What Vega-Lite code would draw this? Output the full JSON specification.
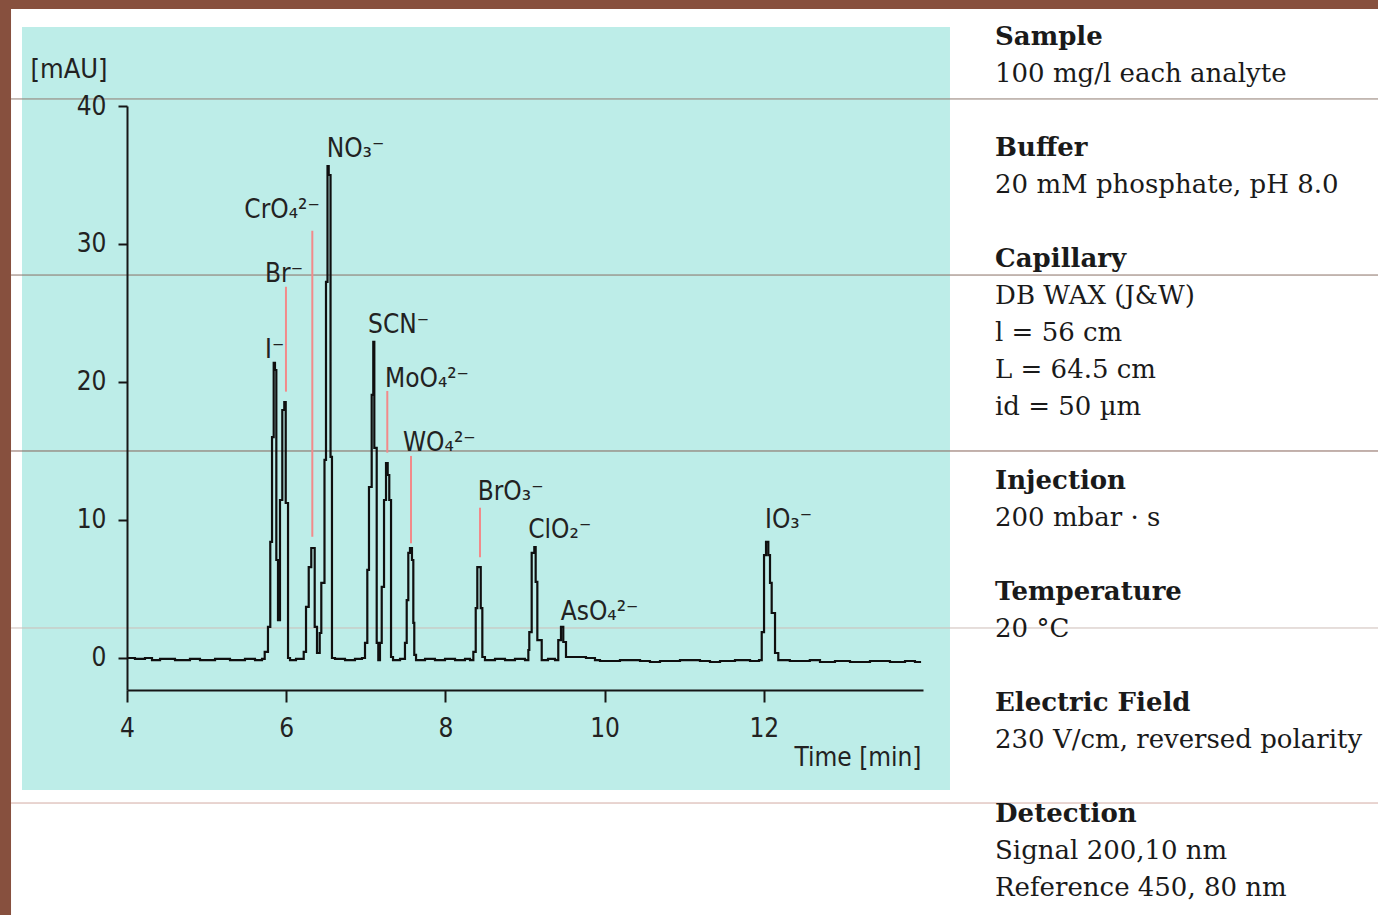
{
  "$schema": "https://vega.github.io/schema/vega-lite/v6.json",
  "width": 796,
  "height": 584,
  "autosize": "none",
  "padding": {"left": 127, "top": 106, "right": 455, "bottom": 225},
  "background": "#87503e",
  "config": {
    "view": {"stroke": null},
    "axis": {"grid": false, "domainColor": "#161616", "domainWidth": 2, "tickColor": "#161616", "tickWidth": 2, "labelFont": "Liberation Sans Narrow, DejaVu Sans Condensed, sans-serif", "labelFontSize": 26, "labelColor": "#222222", "labelFlush": false, "titleFont": "DejaVu Sans Condensed", "titleFontSize": 26, "titleFontWeight": "normal", "titleColor": "#222222"}
  },
  "datasets": {
    "trace": [
      {"t": 4.000, "mAU": 0.00}, {"t": 4.100, "mAU": -0.07}, {"t": 4.226, "mAU": 0.00}, {"t": 4.314, "mAU": -0.15},
      {"t": 4.415, "mAU": -0.07}, {"t": 4.603, "mAU": -0.15}, {"t": 4.791, "mAU": -0.07}, {"t": 4.917, "mAU": -0.15},
      {"t": 5.106, "mAU": -0.07}, {"t": 5.294, "mAU": -0.15}, {"t": 5.482, "mAU": -0.07}, {"t": 5.608, "mAU": -0.15},
      {"t": 5.696, "mAU": -0.07},
      {"t": 5.730, "mAU": 0.44}, {"t": 5.771, "mAU": 2.25}, {"t": 5.800, "mAU": 8.41}, {"t": 5.822, "mAU": 16.01},
      {"t": 5.843, "mAU": 21.38}, {"t": 5.859, "mAU": 20.87}, {"t": 5.876, "mAU": 7.10}, {"t": 5.897, "mAU": 2.75},
      {"t": 5.922, "mAU": 11.45}, {"t": 5.951, "mAU": 17.97}, {"t": 5.976, "mAU": 18.55}, {"t": 5.994, "mAU": 11.23},
      {"t": 6.023, "mAU": 0.00}, {"t": 6.048, "mAU": -0.15}, {"t": 6.123, "mAU": -0.07},
      {"t": 6.220, "mAU": 0.44}, {"t": 6.249, "mAU": 3.70}, {"t": 6.283, "mAU": 6.59}, {"t": 6.315, "mAU": 7.97},
      {"t": 6.358, "mAU": 2.25}, {"t": 6.387, "mAU": 0.36},
      {"t": 6.421, "mAU": 1.81}, {"t": 6.441, "mAU": 5.44}, {"t": 6.481, "mAU": 14.35}, {"t": 6.500, "mAU": 27.25},
      {"t": 6.519, "mAU": 35.65}, {"t": 6.534, "mAU": 35.00}, {"t": 6.557, "mAU": 14.57}, {"t": 6.575, "mAU": 0.00},
      {"t": 6.613, "mAU": -0.07}, {"t": 6.739, "mAU": -0.15}, {"t": 6.864, "mAU": -0.07}, {"t": 6.952, "mAU": 0.00},
      {"t": 6.990, "mAU": 1.09}, {"t": 7.019, "mAU": 6.38}, {"t": 7.040, "mAU": 12.39}, {"t": 7.074, "mAU": 19.06},
      {"t": 7.094, "mAU": 22.90}, {"t": 7.107, "mAU": 15.22}, {"t": 7.137, "mAU": 1.09}, {"t": 7.157, "mAU": -0.15},
      {"t": 7.178, "mAU": 1.09}, {"t": 7.200, "mAU": 5.15}, {"t": 7.229, "mAU": 11.45}, {"t": 7.254, "mAU": 14.13},
      {"t": 7.275, "mAU": 13.26}, {"t": 7.295, "mAU": 11.45}, {"t": 7.317, "mAU": 0.07}, {"t": 7.342, "mAU": -0.15},
      {"t": 7.430, "mAU": -0.07},
      {"t": 7.492, "mAU": 1.09}, {"t": 7.514, "mAU": 4.20}, {"t": 7.534, "mAU": 7.61}, {"t": 7.555, "mAU": 7.97},
      {"t": 7.580, "mAU": 7.10}, {"t": 7.597, "mAU": 2.54}, {"t": 7.609, "mAU": 0.22},
      {"t": 7.631, "mAU": -0.15}, {"t": 7.744, "mAU": -0.07}, {"t": 7.869, "mAU": -0.15}, {"t": 7.995, "mAU": -0.07},
      {"t": 8.121, "mAU": -0.15}, {"t": 8.246, "mAU": -0.07}, {"t": 8.309, "mAU": -0.15},
      {"t": 8.351, "mAU": 0.44}, {"t": 8.381, "mAU": 3.62}, {"t": 8.401, "mAU": 6.59}, {"t": 8.444, "mAU": 3.62},
      {"t": 8.464, "mAU": 0.07},
      {"t": 8.497, "mAU": -0.15}, {"t": 8.623, "mAU": -0.07}, {"t": 8.749, "mAU": -0.15}, {"t": 8.874, "mAU": -0.07},
      {"t": 9.000, "mAU": -0.15},
      {"t": 9.042, "mAU": 0.58}, {"t": 9.054, "mAU": 1.88}, {"t": 9.084, "mAU": 7.61}, {"t": 9.117, "mAU": 8.04},
      {"t": 9.134, "mAU": 5.51}, {"t": 9.155, "mAU": 1.30}, {"t": 9.210, "mAU": -0.15},
      {"t": 9.289, "mAU": -0.07}, {"t": 9.377, "mAU": -0.15},
      {"t": 9.418, "mAU": 1.30}, {"t": 9.452, "mAU": 2.25}, {"t": 9.481, "mAU": 1.16}, {"t": 9.515, "mAU": 0.07},
      {"t": 9.628, "mAU": 0.07}, {"t": 9.766, "mAU": 0.00}, {"t": 9.879, "mAU": -0.15}, {"t": 9.942, "mAU": -0.22},
      {"t": 10.193, "mAU": -0.15}, {"t": 10.445, "mAU": -0.22}, {"t": 10.570, "mAU": -0.29}, {"t": 10.696, "mAU": -0.22},
      {"t": 10.947, "mAU": -0.15}, {"t": 11.198, "mAU": -0.22}, {"t": 11.324, "mAU": -0.29}, {"t": 11.450, "mAU": -0.22},
      {"t": 11.638, "mAU": -0.15}, {"t": 11.827, "mAU": -0.22}, {"t": 11.940, "mAU": -0.15},
      {"t": 11.974, "mAU": 1.88}, {"t": 12.003, "mAU": 7.46}, {"t": 12.028, "mAU": 8.41}, {"t": 12.057, "mAU": 7.46},
      {"t": 12.078, "mAU": 5.44}, {"t": 12.099, "mAU": 3.26}, {"t": 12.141, "mAU": 0.36}, {"t": 12.182, "mAU": -0.15},
      {"t": 12.327, "mAU": -0.22}, {"t": 12.578, "mAU": -0.15}, {"t": 12.706, "mAU": -0.29}, {"t": 12.894, "mAU": -0.22},
      {"t": 13.083, "mAU": -0.29}, {"t": 13.334, "mAU": -0.22}, {"t": 13.585, "mAU": -0.29}, {"t": 13.774, "mAU": -0.22},
      {"t": 13.899, "mAU": -0.29}, {"t": 13.962, "mAU": -0.22}
    ],
    "labels": [
      {"ion": "NO₃⁻", "t": 6.509, "mAU": 36.33},
      {"ion": "CrO₄²⁻", "t": 5.474, "mAU": 31.86},
      {"ion": "Br⁻", "t": 5.734, "mAU": 27.27},
      {"ion": "I⁻", "t": 5.734, "mAU": 21.72},
      {"ion": "SCN⁻", "t": 7.028, "mAU": 23.55},
      {"ion": "MoO₄²⁻", "t": 7.241, "mAU": 19.64},
      {"ion": "WO₄²⁻", "t": 7.467, "mAU": 15.00},
      {"ion": "BrO₃⁻", "t": 8.406, "mAU": 11.45},
      {"ion": "ClO₂⁻", "t": 9.041, "mAU": 8.67},
      {"ion": "AsO₄²⁻", "t": 9.449, "mAU": 2.75},
      {"ion": "IO₃⁻", "t": 12.015, "mAU": 9.40}
    ],
    "markers": [
      {"ion": "Br⁻", "t": 5.997, "top": 26.9, "bottom": 19.3},
      {"ion": "CrO₄²⁻", "t": 6.328, "top": 30.96, "bottom": 8.79},
      {"ion": "MoO₄²⁻", "t": 7.270, "top": 19.35, "bottom": 14.88},
      {"ion": "WO₄²⁻", "t": 7.568, "top": 14.64, "bottom": 8.31},
      {"ion": "BrO₃⁻", "t": 8.435, "top": 10.89, "bottom": 7.30}
    ],
    "info": [
      {"line": 0, "role": "heading", "text": "Sample"},
      {"line": 1, "role": "detail", "text": "100 mg/l each analyte"},
      {"line": 3, "role": "heading", "text": "Buffer"},
      {"line": 4, "role": "detail", "text": "20 mM phosphate, pH 8.0"},
      {"line": 6, "role": "heading", "text": "Capillary"},
      {"line": 7, "role": "detail", "text": "DB WAX (J&W)"},
      {"line": 8, "role": "detail", "text": "l = 56 cm"},
      {"line": 9, "role": "detail", "text": "L = 64.5 cm"},
      {"line": 10, "role": "detail", "text": "id = 50 µm"},
      {"line": 12, "role": "heading", "text": "Injection"},
      {"line": 13, "role": "detail", "text": "200 mbar · s"},
      {"line": 15, "role": "heading", "text": "Temperature"},
      {"line": 16, "role": "detail", "text": "20 °C"},
      {"line": 18, "role": "heading", "text": "Electric Field"},
      {"line": 19, "role": "detail", "text": "230 V/cm, reversed polarity"},
      {"line": 21, "role": "heading", "text": "Detection"},
      {"line": 22, "role": "detail", "text": "Signal 200,10 nm"},
      {"line": 23, "role": "detail", "text": "Reference 450, 80 nm"}
    ]
  },
  "layer": [
    {
      "layer": [
        {
          "data": {"values": [{}]},
          "mark": {"type": "rect", "color": "#ffffff"},
          "encoding": {
            "x": {"datum": 2.543, "type": "quantitative", "scale": {"domain": [4, 14], "nice": false, "zero": false}},
            "x2": {"datum": 20},
            "y": {"datum": 47.03, "type": "quantitative", "scale": {"domain": [-2.32, 40], "nice": false, "zero": false}},
            "y2": {"datum": -30}
          }
        },
        {
          "data": {"values": [{}]},
          "mark": {"type": "rect", "color": "#bdede8"},
          "encoding": {
            "x": {"datum": 2.681, "type": "quantitative", "scale": {"domain": [4, 14], "nice": false, "zero": false}},
            "x2": {"datum": 14.339},
            "y": {"datum": 45.72, "type": "quantitative", "scale": {"domain": [-2.32, 40], "nice": false, "zero": false}},
            "y2": {"datum": -9.565}
          }
        },
        {
          "data": {"values": [{}]},
          "mark": {"type": "rule", "color": "#8f7b70", "strokeWidth": 1},
          "encoding": {"x": {"datum": 2.543, "type": "quantitative", "scale": {"domain": [4, 14], "nice": false, "zero": false}}, "x2": {"datum": 20}, "y": {"datum": 40.51, "type": "quantitative", "scale": {"domain": [-2.32, 40], "nice": false, "zero": false}}}
        },
        {
          "data": {"values": [{}]},
          "mark": {"type": "rule", "color": "#8a7166", "strokeWidth": 1},
          "encoding": {"x": {"datum": 2.543, "type": "quantitative", "scale": {"domain": [4, 14], "nice": false, "zero": false}}, "x2": {"datum": 20}, "y": {"datum": 27.75, "type": "quantitative", "scale": {"domain": [-2.32, 40], "nice": false, "zero": false}}}
        },
        {
          "data": {"values": [{}]},
          "mark": {"type": "rule", "color": "#86645a", "strokeWidth": 1},
          "encoding": {"x": {"datum": 2.543, "type": "quantitative", "scale": {"domain": [4, 14], "nice": false, "zero": false}}, "x2": {"datum": 20}, "y": {"datum": 15.0, "type": "quantitative", "scale": {"domain": [-2.32, 40], "nice": false, "zero": false}}}
        },
        {
          "data": {"values": [{}]},
          "mark": {"type": "rule", "color": "#cdbdb8", "strokeWidth": 1},
          "encoding": {"x": {"datum": 2.543, "type": "quantitative", "scale": {"domain": [4, 14], "nice": false, "zero": false}}, "x2": {"datum": 20}, "y": {"datum": 2.174, "type": "quantitative", "scale": {"domain": [-2.32, 40], "nice": false, "zero": false}}}
        },
        {
          "data": {"values": [{}]},
          "mark": {"type": "rule", "color": "#d2aaa2", "strokeWidth": 1},
          "encoding": {"x": {"datum": 2.543, "type": "quantitative", "scale": {"domain": [4, 14], "nice": false, "zero": false}}, "x2": {"datum": 20}, "y": {"datum": -10.51, "type": "quantitative", "scale": {"domain": [-2.32, 40], "nice": false, "zero": false}}}
        },
        {
          "data": {"name": "markers"},
          "mark": {"type": "rule", "color": "#f28a8a", "strokeWidth": 2},
          "encoding": {
            "x": {"field": "t", "type": "quantitative", "scale": {"domain": [4, 14], "nice": false, "zero": false}},
            "y": {"field": "top", "type": "quantitative", "scale": {"domain": [-2.32, 40], "nice": false, "zero": false}},
            "y2": {"field": "bottom"}
          }
        },
        {
          "data": {"name": "trace"},
          "mark": {"type": "line", "color": "#0f0f0f", "strokeWidth": 2.2, "interpolate": "step-after"},
          "encoding": {
            "x": {"field": "t", "type": "quantitative", "scale": {"domain": [4, 14], "nice": false, "zero": false},
                  "axis": {"zindex": 2, "values": [4, 6, 8, 10, 12], "format": "d", "tickSize": 12, "labelPadding": 13, "title": "Time [min]", "titleAnchor": "end", "titleAlign": "right", "titleBaseline": "alphabetic", "titleX": 794, "titleY": 75}},
            "y": {"field": "mAU", "type": "quantitative", "scale": {"domain": [-2.32, 40], "nice": false, "zero": false},
                  "axis": {"zindex": 2, "values": [0, 10, 20, 30, 40], "format": "d", "tickSize": 9, "labelPadding": 12, "title": "[mAU]", "titleAngle": 0, "titleAlign": "left", "titleBaseline": "alphabetic", "titleX": -97, "titleY": -29, "titleFontSize": 27}}
          }
        },
        {
          "data": {"name": "labels"},
          "mark": {"type": "text", "align": "left", "baseline": "alphabetic", "font": "DejaVu Sans Condensed", "fontSize": 26, "color": "#222222"},
          "encoding": {
            "x": {"field": "t", "type": "quantitative", "scale": {"domain": [4, 14], "nice": false, "zero": false}},
            "y": {"field": "mAU", "type": "quantitative", "scale": {"domain": [-2.32, 40], "nice": false, "zero": false}},
            "text": {"field": "ion"}
          }
        }
      ]
    },
    {
      "data": {"name": "info"},
      "layer": [
        {
          "transform": [{"filter": "datum.role === 'heading'"}],
          "mark": {"type": "text", "align": "left", "baseline": "middle", "font": "DejaVu Serif", "fontSize": 26, "fontWeight": "bold", "color": "#1a1a1a"},
          "encoding": {
            "x": {"datum": 14.905, "type": "quantitative", "scale": {"domain": [4, 14], "nice": false, "zero": false}},
            "y": {"field": "line", "type": "quantitative", "scale": {"domain": [1.865, 17.649], "reverse": true, "nice": false, "zero": false}, "axis": null},
            "text": {"field": "text"}
          }
        },
        {
          "transform": [{"filter": "datum.role === 'detail'"}],
          "mark": {"type": "text", "align": "left", "baseline": "middle", "font": "DejaVu Serif", "fontSize": 26, "color": "#1a1a1a"},
          "encoding": {
            "x": {"datum": 14.905, "type": "quantitative", "scale": {"domain": [4, 14], "nice": false, "zero": false}},
            "y": {"field": "line", "type": "quantitative", "scale": {"domain": [1.865, 17.649], "reverse": true, "nice": false, "zero": false}, "axis": null},
            "text": {"field": "text"}
          }
        }
      ]
    }
  ],
  "resolve": {"scale": {"y": "independent"}}
}
